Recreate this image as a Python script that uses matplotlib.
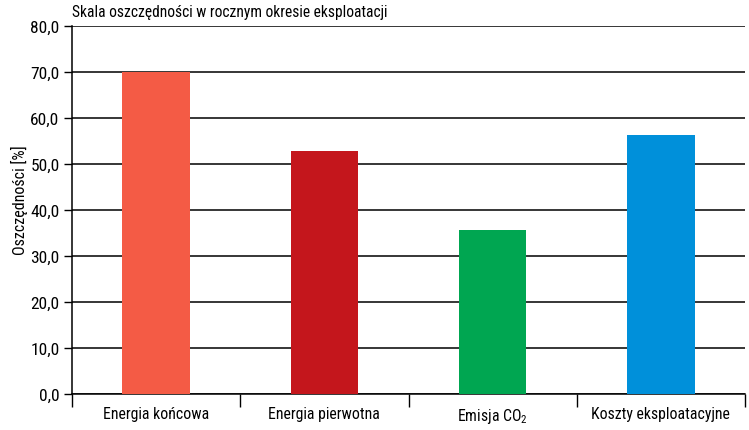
import numpy as np
import matplotlib
matplotlib.use("Agg")
import matplotlib.pyplot as plt
from matplotlib.ticker import FuncFormatter, MultipleLocator

categories = ["Energia końcowa", "Energia pierwotna", "Emisja CO$_2$", "Koszty eksploatacyjne"]
savings = [70.0, 52.8, 35.7, 56.3]
colors = ["#F45B45", "#C4161C", "#00A651", "#0090DA"]

plt.rcParams["font.family"] = ["Roboto Condensed", "DejaVu Sans"]
plt.rcParams["mathtext.default"] = "regular"

fig = plt.figure(figsize=(7.49, 4.31), dpi=100)
ax = fig.add_axes([72 / 749, 1 - 395 / 431, 673 / 749, 368 / 431])

x = np.arange(len(categories))
ax.bar(x, savings, width=0.4, color=colors, zorder=3)

ax.set_xlim(-0.5, len(categories) - 0.5)
ax.set_ylim(0, 80)
ax.yaxis.set_major_locator(MultipleLocator(10))
ax.yaxis.set_major_formatter(FuncFormatter(lambda v, p: f"{v:.1f}".replace(".", ",")))
ax.grid(axis="y", color="black", linewidth=1.1, zorder=1)

ax.set_xticks(x)
ax.set_xticklabels(categories, fontsize=11.3)
ax.set_xticks(np.arange(-0.5, len(categories)), minor=True)
ax.tick_params(axis="x", which="major", length=0, pad=9)
ax.tick_params(axis="x", which="minor", length=9, width=1, color="black", direction="out")
ax.tick_params(axis="y", length=6, width=1, labelsize=12.5, pad=3)

for s in ["top", "right"]:
    ax.spines[s].set_visible(False)
for s in ["left", "bottom"]:
    ax.spines[s].set_linewidth(1.1)

fig.text(19 / 749, 1 - 200 / 431, "Oszczędności [%]", fontsize=11.5,
         rotation=90, ha="center", va="center")
fig.text(72 / 749, 1 - 12 / 431, "Skala oszczędności w rocznym okresie eksploatacji",
         fontsize=11.2, ha="left", va="center")

fig.savefig("out.png", dpi=100)
